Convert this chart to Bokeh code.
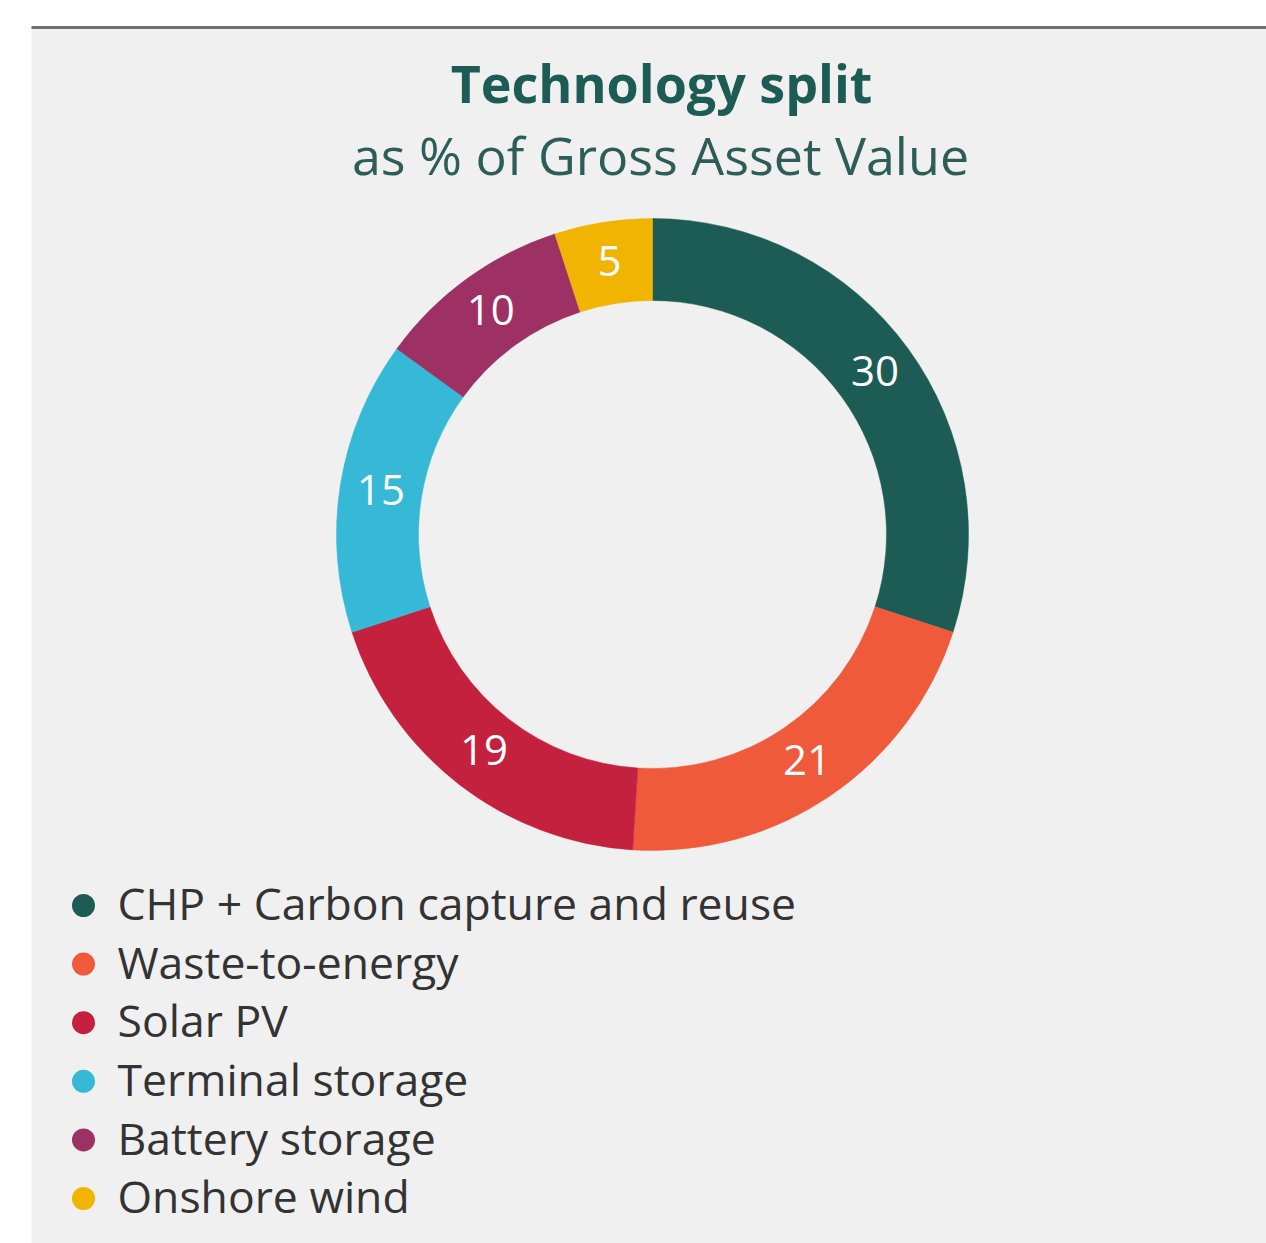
import numpy as np
from bokeh.plotting import figure
from bokeh.models import Range1d, BoxAnnotation, Label, ColumnDataSource
from bokeh.core.properties import value
from bokeh.embed import file_html
from bokeh.resources import INLINE

# ---- data ----
categories = ["CHP + Carbon capture and reuse", "Waste-to-energy", "Solar PV",
              "Terminal storage", "Battery storage", "Onshore wind"]
shares = [30, 21, 19, 15, 10, 5]
colors = ["#1d5c55", "#ee5a3a", "#c4213f", "#36b8d7", "#9d3163", "#f1b400"]
title_text = "Technology split"
subtitle_text = "as % of Gross Asset Value"

W, H = 1266, 1243
FONT = "Open Sans"
SHIFT = 0.4  # baseline correction (em)

p = figure(width=W, height=H, x_range=Range1d(0, W), y_range=Range1d(0, H),
           min_border=0, x_axis_type=None, y_axis_type=None,
           toolbar_location=None, output_backend="svg",
           outline_line_color=None, background_fill_color="white",
           border_fill_color="white")
p.grid.visible = False

# panel background and top rule
p.add_layout(BoxAnnotation(left=31, right=W, bottom=0, top=H - 27,
                           fill_color="#f0f0f0", fill_alpha=1.0,
                           line_color=None, level="underlay"))
p.add_layout(BoxAnnotation(left=31, right=W, bottom=H - 28.5, top=H - 25.5,
                           fill_color="#6f7272", fill_alpha=1.0,
                           line_color=None, level="underlay"))

# ---- donut ----
cx, cy = 652, H - 534
r_out, r_in = 316, 234
vals = np.array(shares, dtype=float)
total = vals.sum()
cum_end = np.cumsum(vals) / total
cum_start = cum_end - vals / total
start = np.pi / 2 - 2 * np.pi * cum_start
end = np.pi / 2 - 2 * np.pi * cum_end
src = ColumnDataSource(dict(start=start, end=end, color=colors, cat=categories))
p.annular_wedge(x=cx, y=cy, inner_radius=r_in, outer_radius=r_out,
                start_angle="start", end_angle="end", direction="clock",
                fill_color="color", line_color="color", line_width=0.5,
                source=src)

# slice labels
lab_fs = 42
mid = 2 * np.pi * (cum_start + cum_end) / 2
r_lab = (r_in + r_out) / 2
lx = cx + r_lab * np.sin(mid)
ly = cy + r_lab * np.cos(mid) - 15 + SHIFT * lab_fs
lab_src = ColumnDataSource(dict(x=lx, y=ly, t=[str(v) for v in shares]))
p.text(x="x", y="y", text="t", source=lab_src, text_align="center",
       text_baseline="alphabetic", text_font=value(FONT),
       text_font_size=f"{lab_fs}px", text_color="#ffffff")

# ---- titles ----
t_fs, s_fs = 52, 52
p.add_layout(Label(x=661, y=H - 103 + SHIFT * t_fs, text=title_text,
                   text_align="center", text_baseline="alphabetic",
                   text_font=FONT, text_font_size=f"{t_fs}px",
                   text_font_style="bold", text_color="#1d5c55"))
p.add_layout(Label(x=660, y=H - 175 + SHIFT * s_fs, text=subtitle_text,
                   text_align="center", text_baseline="alphabetic",
                   text_font=FONT, text_font_size=f"{s_fs}px",
                   text_color="#2c5d58"))

# ---- legend ----
leg_fs = 44.5
n = len(categories)
base = np.array([920 + 58.6 * i for i in range(n)])
leg_src = ColumnDataSource(dict(
    mx=[83] * n, my=H - (base - 15), tx=[117] * n,
    ty=H - base + SHIFT * leg_fs, t=categories, color=colors))
p.scatter(x="mx", y="my", size=23, marker="circle", fill_color="color",
          line_color=None, source=leg_src)
p.text(x="tx", y="ty", text="t", source=leg_src, text_align="left",
       text_baseline="alphabetic", text_font=value(FONT),
       text_font_size=f"{leg_fs}px", text_color="#333333")

open("out.html", "w").write(file_html(p, INLINE))
